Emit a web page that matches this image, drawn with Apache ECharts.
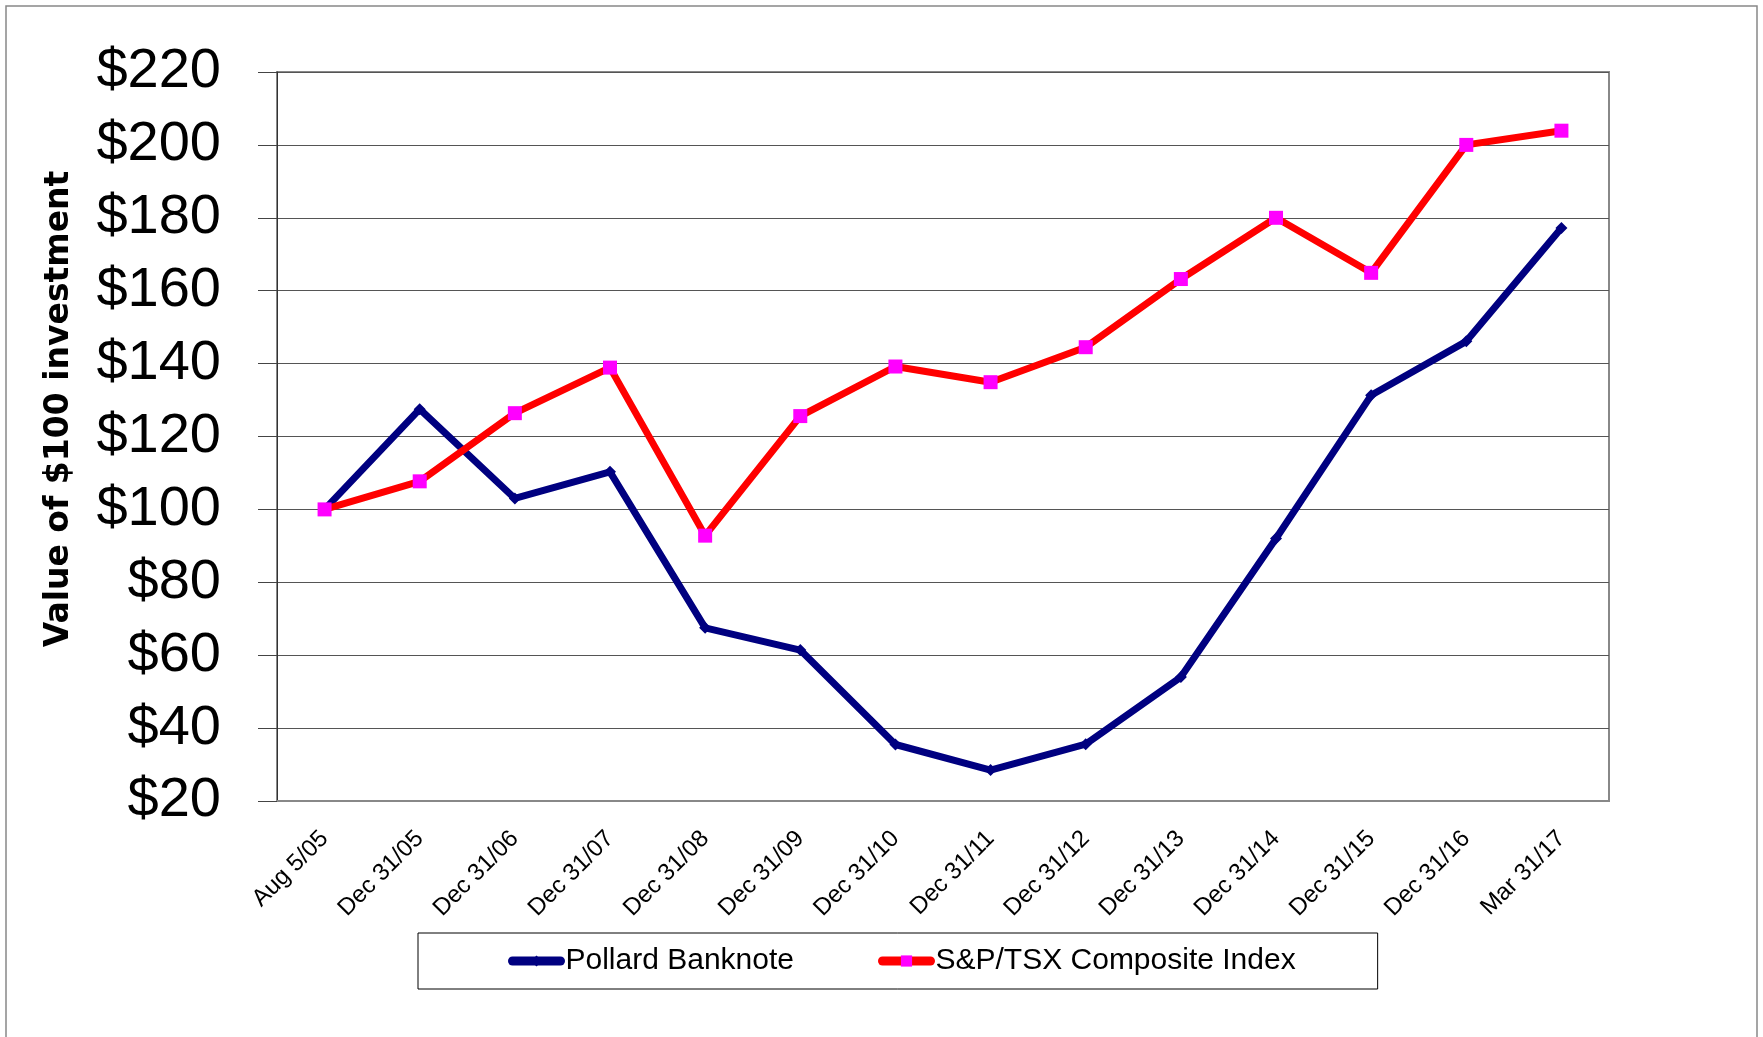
<!DOCTYPE html>
<html>
<head>
<meta charset="utf-8">
<script src="https://cdn.jsdelivr.net/npm/echarts@6/dist/echarts.min.js"></script>
<style>
  html, body { margin: 0; padding: 0; background: #fff; }
  #main { width: 1763px; height: 1037px; }
</style>
</head>
<body>
<div id="main"></div>
<script>
  // x categories
  let dates = ['Aug 5/05', 'Dec 31/05', 'Dec 31/06', 'Dec 31/07', 'Dec 31/08', 'Dec 31/09', 'Dec 31/10',
    'Dec 31/11', 'Dec 31/12', 'Dec 31/13', 'Dec 31/14', 'Dec 31/15', 'Dec 31/16', 'Mar 31/17']
  // value of $100 invested
  let pollard = [100, 127.5, 103, 110.3, 67.5, 61.4, 35.5, 28.5, 35.6, 54, 92, 131.3, 146.1, 177.2]
  let tsx = [100, 107.7, 126.4, 138.9, 92.8, 125.6, 139.2, 134.9, 144.5, 163.2, 180, 164.9, 200, 203.9]
  let seriesNames = ['Pollard Banknote', 'S&P/TSX Composite Index']
  let yTitle = 'Value of $100 investment'

  let myChart = echarts.init(document.getElementById('main'))
  let font = "'Liberation Sans', Arial, sans-serif"

  let option = {
    animation: false,
    backgroundColor: '#fff',
    grid: {
      left: 277,
      top: 72,
      right: 154,
      bottom: 236,
      show: true,
      borderColor: '#888',
      borderWidth: 2
    },
    graphic: [
      {
        type: 'rect',
        shape: { x: 6, y: 6, width: 1751, height: 1100 },
        style: { fill: 'none', stroke: '#888', lineWidth: 1.5 }
      },
      {
        type: 'text',
        x: 59,
        y: 409,
        rotation: Math.PI / 2,
        style: {
          text: yTitle,
          fontSize: 33,
          fontWeight: 'bold',
          fontFamily: "'DejaVu Sans', Verdana, sans-serif",
          fill: '#000',
          textAlign: 'center',
          textVerticalAlign: 'middle'
        }
      }
    ],
    legend: {
      data: seriesNames,
      left: 418,
      top: 933,
      padding: [13, 82, 13, 90],
      itemGap: 84,
      itemWidth: 48,
      itemHeight: 14,
      borderColor: '#000',
      borderWidth: 1,
      lineStyle: { width: 9, cap: 'round' },
      textStyle: { fontSize: 30, fontFamily: font, color: '#000' }
    },
    xAxis: {
      type: 'category',
      data: dates,
      axisLine: { lineStyle: { color: '#888', width: 2 } },
      axisTick: { show: false },
      axisLabel: {
        rotate: 45,
        margin: 34,
        interval: 0,
        fontSize: 24,
        fontFamily: font,
        color: '#000'
      }
    },
    yAxis: {
      type: 'value',
      min: 20,
      max: 220,
      interval: 20,
      axisLine: { show: true, lineStyle: { color: '#333', width: 1 } },
      axisTick: { show: true, length: 19, lineStyle: { color: '#444' } },
      axisLabel: {
        margin: 56,
        fontSize: 56,
        fontFamily: font,
        color: '#000',
        formatter: function (v) { return '$' + v }
      },
      splitLine: { lineStyle: { color: '#555', width: 1.2 } }
    },
    series: [
      {
        name: seriesNames[0],
        type: 'line',
        data: pollard,
        symbol: 'diamond',
        symbolSize: 12,
        itemStyle: { color: '#000080' },
        lineStyle: { color: '#000080', width: 7 }
      },
      {
        name: seriesNames[1],
        type: 'line',
        data: tsx,
        symbol: 'rect',
        symbolSize: 14,
        itemStyle: { color: '#FF00FF' },
        lineStyle: { color: '#FF0000', width: 7 }
      }
    ]
  }
  myChart.setOption(option)
</script>
</body>
</html>
